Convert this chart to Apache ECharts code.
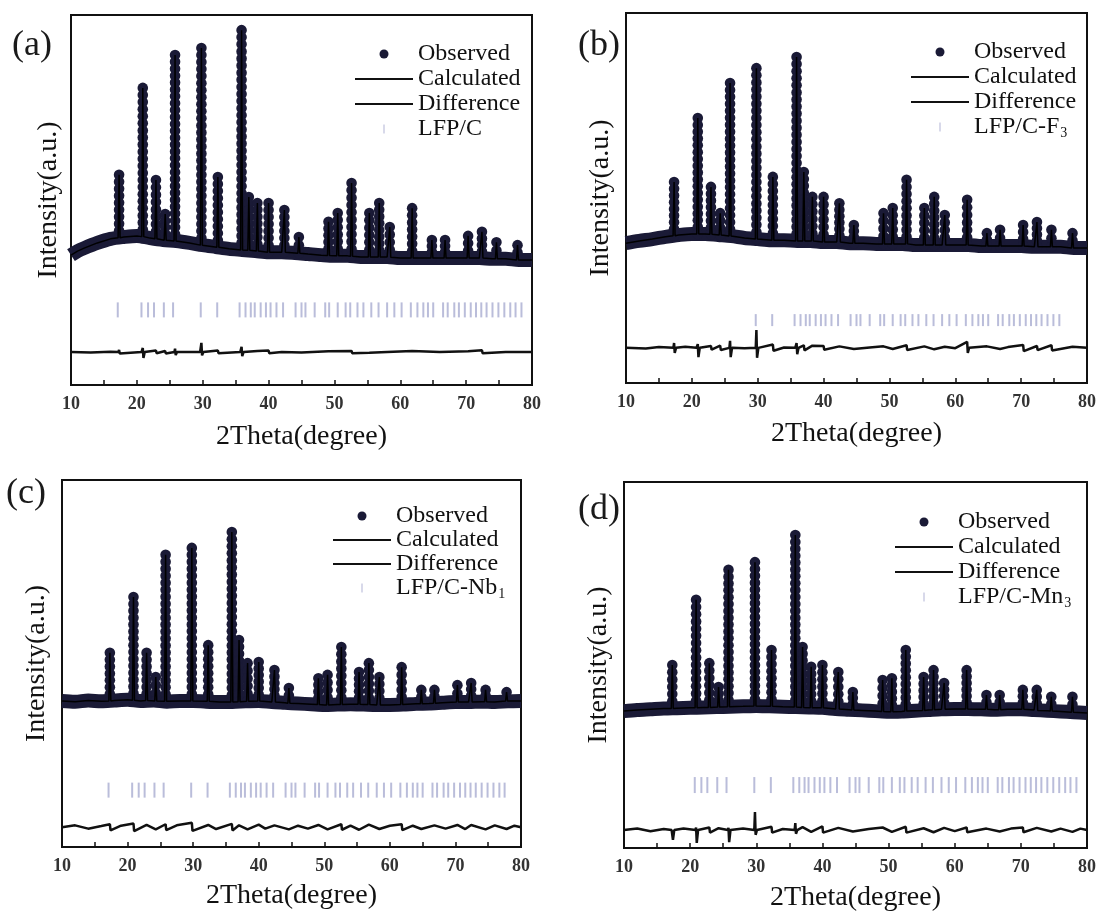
<!DOCTYPE html>
<html><head><meta charset="utf-8">
<script src="https://cdn.jsdelivr.net/npm/echarts@6/dist/echarts.min.js"></script>
<style>html,body{margin:0;padding:0;background:#fff}#c{width:1100px;height:922px}</style>
</head><body><div id="c"></div>
<script>
// ---------- data ----------
const xTicks = [10, 20, 30, 40, 50, 60, 70, 80];
const panelLabels = ['(a)', '(b)', '(c)', '(d)'];
const phaseMain = ['LFP/C', 'LFP/C-F', 'LFP/C-Nb', 'LFP/C-Mn'];
const phaseSub = ['', '3', '1', '3'];

// peak positions (2θ, degree), common to all four samples
const peakPos = [17.3, 20.9, 22.9, 24.3, 25.8, 29.8, 32.3, 35.9, 37.0, 38.3, 40.0, 42.4, 44.6, 49.1, 50.5, 52.6, 55.3, 56.8, 58.4, 61.8, 64.8, 66.8, 70.3, 72.4, 74.6, 77.8];

// background level under each peak and observed peak top (a.u.)
const peakBaseA = [39.8, 40.1, 39.5, 39.1, 38.9, 37.8, 37.2, 36.5, 36.4, 36.2, 35.9, 35.9, 35.6, 35.0, 34.9, 34.8, 34.6, 34.6, 34.5, 34.3, 34.3, 34.3, 34.3, 34.3, 34.1, 33.8];
const peakTopA  = [56.8, 80.3, 55.4, 46.2, 89.2, 91.1, 56.2, 95.9, 50.8, 49.2, 49.2, 47.3, 40.0, 44.1, 46.5, 54.6, 46.5, 49.2, 42.7, 47.8, 39.2, 39.2, 40.3, 41.4, 38.6, 37.8];
const peakBaseB = [39.8, 40.3, 40.2, 40.0, 39.7, 38.9, 38.6, 38.4, 38.4, 38.4, 38.1, 38.1, 37.8, 37.6, 37.6, 37.6, 37.3, 37.3, 37.3, 37.3, 37.0, 37.0, 37.0, 36.8, 36.8, 36.5];
const peakTopB  = [54.3, 71.6, 53.0, 45.9, 81.1, 85.1, 55.7, 88.1, 57.0, 50.3, 50.3, 48.6, 42.7, 45.9, 47.3, 54.9, 47.3, 50.3, 45.4, 49.5, 40.5, 41.4, 42.7, 43.5, 41.4, 40.5];
const peakBaseC = [39.8, 40.0, 39.9, 39.8, 39.7, 39.8, 39.7, 39.5, 39.6, 39.7, 39.8, 39.5, 39.2, 38.8, 38.7, 38.8, 38.9, 38.8, 38.7, 38.8, 39.0, 39.2, 39.5, 39.5, 39.6, 39.8];
const peakTopC  = [52.9, 68.1, 52.9, 46.3, 79.6, 81.5, 55.0, 85.8, 56.4, 50.1, 50.4, 48.2, 43.3, 46.0, 46.9, 54.5, 47.7, 50.1, 46.3, 49.0, 42.8, 42.8, 44.1, 44.7, 42.8, 42.2];
const peakBaseD = [38.1, 38.3, 38.4, 38.5, 38.6, 38.8, 38.7, 38.5, 38.4, 38.3, 38.3, 38.0, 37.7, 37.3, 37.2, 37.4, 37.6, 37.8, 37.9, 38.0, 37.9, 37.8, 37.9, 37.6, 37.4, 37.1];
const peakTopD  = [50.0, 67.8, 50.5, 44.0, 76.0, 78.1, 54.1, 85.5, 54.9, 49.5, 50.0, 48.1, 42.6, 45.9, 46.4, 54.1, 46.7, 48.6, 45.1, 48.6, 41.8, 41.8, 43.2, 43.2, 41.3, 41.3];

// observed background between the peaks
const bgA = [[10,35.1],[11,36.2],[12,37.0],[14,38.4],[16,39.5],[18,40.0],[20,40.3],[22,39.7],[24,39.2],[26,38.9],[28,38.4],[30,37.8],[32,37.3],[34,36.8],[36,36.5],[38,36.2],[40,35.9],[42,35.9],[44,35.7],[46,35.4],[48,35.1],[50,34.9],[52,34.9],[54,34.6],[56,34.6],[58,34.6],[60,34.3],[62,34.3],[64,34.3],[66,34.3],[68,34.3],[70,34.3],[72,34.3],[74,34.1],[76,34.1],[78,33.8],[80,33.8]];
const bgB = [[10,37.8],[12,38.4],[14,38.9],[16,39.5],[18,40.0],[20,40.3],[22,40.3],[24,40.0],[26,39.7],[28,39.2],[30,38.9],[32,38.6],[34,38.6],[36,38.4],[38,38.4],[40,38.1],[42,38.1],[44,37.8],[46,37.8],[48,37.6],[50,37.6],[52,37.6],[54,37.3],[56,37.3],[58,37.3],[60,37.3],[62,37.3],[64,37.0],[66,37.0],[68,37.0],[70,37.0],[72,36.8],[74,36.8],[76,36.8],[78,36.5],[80,36.5]];
const bgC = [[10,39.8],[12,39.6],[14,39.9],[16,39.7],[18,39.9],[20,40.1],[22,39.8],[24,39.9],[26,39.6],[28,39.8],[30,39.8],[32,39.6],[34,39.5],[36,39.5],[38,39.7],[40,39.8],[42,39.5],[44,39.3],[46,39.1],[48,38.9],[50,38.7],[52,38.8],[54,38.9],[56,38.8],[58,38.7],[60,38.7],[62,38.8],[64,39.0],[66,39.1],[68,39.3],[70,39.5],[72,39.5],[74,39.6],[76,39.5],[78,39.7],[80,39.8]];
const bgD = [[10,37.4],[12,37.7],[14,37.9],[16,38.1],[18,38.2],[20,38.3],[22,38.4],[24,38.5],[26,38.6],[28,38.7],[30,38.8],[32,38.7],[34,38.6],[36,38.5],[38,38.4],[40,38.3],[42,38.0],[44,37.8],[46,37.6],[48,37.4],[50,37.2],[52,37.3],[54,37.5],[56,37.7],[58,37.9],[60,38.0],[62,38.0],[64,37.9],[66,37.8],[68,37.9],[70,37.9],[72,37.7],[74,37.5],[76,37.3],[78,37.1],[80,36.9]];

// difference curves
const diffA = [[10,8.9],[13,8.8],[16,9.0],[17.2,8.9],[17.3,9.5],[17.4,8.5],[17.6,8.9],[20.7,8.9],[20.9,10.0],[21.0,7.3],[21.2,8.9],[22.9,9.3],[23.0,8.6],[24.3,9.2],[24.4,8.5],[24.6,8.9],[25.7,8.9],[25.8,9.8],[25.9,8.1],[26.1,8.9],[29.6,8.9],[29.8,11.4],[29.9,8.0],[30.1,8.9],[32.3,9.3],[32.4,8.6],[35.7,8.9],[35.9,10.3],[36.0,7.8],[36.2,8.9],[38.3,9.2],[40.0,9.3],[40.1,8.6],[42,8.9],[45,8.8],[49.1,9.1],[52.6,9.2],[52.7,8.6],[55.3,8.7],[58,8.9],[61.8,9.2],[62,8.7],[66,8.9],[70.3,9.1],[72.4,9.4],[72.5,8.6],[76,8.9],[80,8.9]];
const diffB = [[10,9.5],[13,9.3],[15,9.7],[17.2,9.5],[17.3,10.8],[17.4,8.1],[17.6,9.5],[19,9.8],[20.7,9.5],[20.9,10.5],[21.0,7.0],[21.2,9.5],[22.9,10.0],[23.0,9.0],[24.3,10.1],[24.4,8.9],[25.7,9.5],[25.8,11.4],[25.9,7.0],[26.1,9.5],[28,9.4],[29.7,9.5],[29.8,14.3],[29.9,6.8],[30.1,9.5],[32.3,10.4],[32.4,8.7],[34,9.6],[35.7,9.5],[35.9,10.8],[36.0,7.8],[36.2,9.5],[37.0,10.2],[37.1,8.8],[38.3,10.1],[40.0,10.0],[40.1,9.0],[42.4,9.9],[44.6,9.2],[47,9.6],[49.1,9.9],[50.5,9.2],[52.6,10.2],[52.7,8.9],[55.3,9.9],[56.8,9.1],[58.4,9.8],[60,9.4],[61.8,11.1],[61.9,8.1],[62.1,9.5],[64.8,9.9],[66.8,9.2],[68,9.7],[70.3,10.3],[70.4,8.6],[72.4,10.0],[72.5,8.9],[74.6,10.2],[74.7,8.8],[77.8,9.8],[80,9.5]];
const diffC = [[10,5.4],[12,5.9],[14,5.0],[16,5.7],[17.3,6.2],[17.4,4.5],[19,5.8],[20.9,6.4],[21.0,4.3],[22.9,6.0],[24.3,4.8],[25.8,6.2],[25.9,4.6],[27.5,5.9],[29.8,6.6],[29.9,4.4],[32.3,6.0],[33.5,4.9],[35.9,6.3],[36.0,4.5],[37.0,5.9],[38.3,4.8],[40.0,6.1],[41,5.0],[42.4,5.9],[44.6,4.8],[46,5.8],[47.5,5.0],[49.1,6.0],[50.5,4.8],[52.6,6.2],[52.7,4.7],[54,5.8],[55.3,4.7],[56.8,6.1],[58.4,4.9],[60,5.8],[61.8,6.2],[61.9,4.6],[63.5,5.8],[64.8,4.9],[66.8,5.9],[68.5,5.0],[70.3,6.0],[71.5,4.9],[72.4,6.0],[74.6,4.8],[76,5.9],[77.8,4.9],[79,5.8],[80,5.4]];
const diffD = [[10,4.9],[12,5.3],[14,4.6],[16,5.2],[17.2,4.9],[17.3,5.4],[17.4,2.2],[17.6,4.9],[19,5.3],[20.8,4.9],[20.9,5.6],[21.0,1.4],[21.2,4.9],[22.9,5.6],[23.0,4.2],[24.3,5.4],[25.7,4.9],[25.8,5.5],[25.9,1.6],[26.1,4.9],[28,5.3],[29.7,4.9],[29.8,9.8],[29.9,3.6],[30.1,4.9],[32.3,5.8],[32.4,4.2],[34,5.2],[35.8,4.9],[35.9,6.8],[36.0,3.9],[36.2,4.9],[37.0,5.7],[38.3,4.4],[40.0,5.9],[40.1,4.2],[42.4,5.5],[44.6,4.5],[47,5.2],[49.1,5.6],[50.5,4.4],[52.6,5.8],[52.7,4.2],[55.3,5.4],[56.8,4.3],[58.4,5.5],[60,4.6],[61.8,5.6],[61.9,4.3],[64.8,5.3],[66.8,4.5],[68.5,5.3],[70.3,5.6],[70.4,4.3],[72.4,5.5],[74.6,4.5],[76,5.3],[77.8,4.4],[79,5.3],[80,4.9]];

// Bragg reflection positions and where each row of marks sits
const braggPos = [17.1, 20.7, 21.7, 22.6, 24.1, 25.5, 29.7, 32.2, 35.6, 36.5, 37.3, 37.9, 38.8, 39.6, 40.3, 41.2, 42.2, 44.1, 45.0, 45.6, 47.0, 48.6, 49.2, 50.5, 51.7, 52.4, 53.5, 54.4, 55.6, 56.7, 58.0, 59.1, 60.2, 61.6, 62.6, 63.5, 64.2, 65.0, 66.5, 67.2, 68.2, 68.9, 69.8, 70.7, 71.5, 72.3, 73.1, 74.0, 74.9, 75.8, 76.7, 77.5, 78.4];
const braggLevel = [20.3, 17.0, 15.5, 17.2];
const braggFrom = [17, 29.5, 17, 20];
const braggTo = [79, 76, 78, 79];

// ---------- layout / style ----------
const FONT = "'Liberation Serif','Times New Roman',serif";
const DOT = '#1a1a36';
const BRAGG = '#aeb1d4';
const layout = [
  {grid:{left:71, top:15, width:461, height:370}, legend:{left:355, top:42, gap:1}, label:{left:12, top:28}, yGap:8, xGap:38, braggH:15},
  {grid:{left:626, top:13, width:461, height:370}, legend:{left:911, top:40, gap:1}, label:{left:578, top:28}, yGap:11, xGap:37, braggH:12},
  {grid:{left:62, top:480, width:459, height:367}, legend:{left:333, top:504, gap:0}, label:{left:6, top:476}, yGap:11, xGap:35, braggH:15},
  {grid:{left:624, top:482, width:463, height:366}, legend:{left:895, top:510, gap:1}, label:{left:578, top:492}, yGap:11, xGap:36, braggH:16}
];
const bgs = [bgA, bgB, bgC, bgD];
const bases = [peakBaseA, peakBaseB, peakBaseC, peakBaseD];
const tops = [peakTopA, peakTopB, peakTopC, peakTopD];
const diffs = [diffA, diffB, diffC, diffD];
const phaseNames = phaseMain.map((m, i) => m + phaseSub[i]);

function buildCalc(bg, base, top) {
  const pts = bg.filter(p => !peakPos.some(x => Math.abs(p[0] - x) < 0.35)).map(p => p.slice());
  peakPos.forEach((x, i) => {
    pts.push([x - 0.15, base[i]]);
    pts.push([x, top[i]]);
    pts.push([x + 0.15, base[i]]);
  });
  pts.sort((a, b) => a[0] - b[0]);
  return pts;
}

function renderDots(params, api) {
  const x = api.value(0), b = api.value(1), t = api.value(2);
  const p0 = api.coord([x, b]);
  const p1 = api.coord([x, t]);
  const span = p0[1] - p1[1];
  const n = Math.max(1, Math.round(span / 7));
  const step = span / n;
  const children = [];
  for (let i = 0; i <= n; i++) {
    children.push({type: 'circle', shape: {cx: p1[0], cy: p1[1] + i * step, r: 5.3}, style: {fill: DOT}});
  }
  return {type: 'group', children: children};
}

function legendFmt(name) {
  const i = phaseNames.indexOf(name);
  if (i >= 0 && phaseSub[i]) return '{t|' + phaseMain[i] + '}{s|' + phaseSub[i] + '}';
  return '{t|' + name + '}';
}

const grids = [], xAxes = [], yAxes = [], series = [], legends = [], titles = [];
layout.forEach((L, i) => {
  grids.push(Object.assign({show: true, borderColor: '#111', borderWidth: 2, backgroundColor: '#fff', outerBoundsMode: 'none', containLabel: false}, L.grid));
  xAxes.push({
    type: 'value', gridIndex: i, min: 10, max: 80, interval: 10,
    name: '2Theta(degree)', nameLocation: 'middle', nameGap: L.xGap, nameMoveOverlap: false,
    nameTextStyle: {fontFamily: FONT, fontSize: 28, color: '#111'},
    axisLine: {show: true, lineStyle: {color: '#111', width: 2}},
    axisTick: {show: true, inside: true, length: 5, lineStyle: {color: '#111', width: 1.5}},
    minorTick: {show: true, splitNumber: 2, length: 5, lineStyle: {color: '#111', width: 1.5}},
    axisLabel: {show: true, margin: 10, fontFamily: FONT, fontSize: 18, fontWeight: 'bold', color: '#333', formatter: v => xTicks.indexOf(v) >= 0 ? String(v) : ''},
    splitLine: {show: false}, minorSplitLine: {show: false}
  });
  yAxes.push({
    type: 'value', gridIndex: i, min: 0, max: 100,
    name: 'Intensity(a.u.)', nameLocation: 'middle', nameGap: L.yGap, nameMoveOverlap: false,
    nameTextStyle: {fontFamily: FONT, fontSize: 28, color: '#111'},
    axisLine: {show: true, lineStyle: {color: '#111', width: 2}},
    axisTick: {show: false}, axisLabel: {show: false}, splitLine: {show: false}
  });
  const bragg = braggPos.filter(x => x >= braggFrom[i] && x <= braggTo[i]).map(x => [x, braggLevel[i]]);
  series.push(
    {name: 'Observed', type: 'line', xAxisIndex: i, yAxisIndex: i, data: bgs[i], smooth: 0.3, symbol: 'none', clip: true,
     lineStyle: {color: DOT, width: 14, cap: 'butt'}, itemStyle: {color: DOT}, z: 2, silent: true, animation: false},
    {name: 'Observed', type: 'custom', xAxisIndex: i, yAxisIndex: i,
     data: peakPos.map((x, k) => [x, bases[i][k], tops[i][k]]), encode: {x: 0, y: [1, 2]},
     renderItem: renderDots, itemStyle: {color: DOT}, z: 3, silent: true, animation: false},
    {name: 'Calculated', type: 'line', xAxisIndex: i, yAxisIndex: i, data: buildCalc(bgs[i], bases[i], tops[i]),
     symbol: 'none', lineStyle: {color: '#000', width: 1.5}, itemStyle: {color: '#000'}, z: 4, silent: true, animation: false},
    {name: 'Difference', type: 'line', xAxisIndex: i, yAxisIndex: i, data: diffs[i],
     symbol: 'none', lineStyle: {color: '#111', width: 2.5}, itemStyle: {color: '#111'}, z: 3, silent: true, animation: false},
    {name: phaseNames[i], type: 'scatter', xAxisIndex: i, yAxisIndex: i, data: bragg,
     symbol: 'rect', symbolSize: [2, L.braggH], itemStyle: {color: BRAGG, opacity: 0.85}, z: 2, silent: true, animation: false}
  );
  const lineIcon = 'path://M0,0L58,0L58,2L0,2Z';
  legends.push({
    orient: 'vertical', left: L.legend.left, top: L.legend.top, padding: 0, itemGap: L.legend.gap,
    itemWidth: 58, itemHeight: 9, selectedMode: false, formatter: legendFmt,
    data: [
      {name: 'Observed', icon: 'circle', itemStyle: {color: DOT, borderWidth: 0}},
      {name: 'Calculated', icon: lineIcon, itemStyle: {color: '#111', borderWidth: 0}},
      {name: 'Difference', icon: lineIcon, itemStyle: {color: '#111', borderWidth: 0}},
      {name: phaseNames[i], icon: 'path://M0,0L2,0L2,16L0,16Z', itemStyle: {color: BRAGG, borderWidth: 0}}
    ],
    textStyle: {fontFamily: FONT, fontSize: 24, color: '#111', rich: {
      t: {fontFamily: FONT, fontSize: 24, color: '#111', lineHeight: 26},
      s: {fontFamily: FONT, fontSize: 14, color: '#111', verticalAlign: 'bottom', lineHeight: 14, padding: [0, 0, 0, 1]}
    }}
  });
  titles.push({text: panelLabels[i], left: L.label.left, top: L.label.top, padding: 0,
    textStyle: {fontFamily: FONT, fontSize: 36, fontWeight: 'normal', color: '#1a1a1a'}});
});

const chart = echarts.init(document.getElementById('c'), null, {renderer: 'canvas'});
chart.setOption({
  backgroundColor: '#fff', animation: false,
  title: titles, grid: grids, xAxis: xAxes, yAxis: yAxes, legend: legends, series: series
});
</script></body></html>
